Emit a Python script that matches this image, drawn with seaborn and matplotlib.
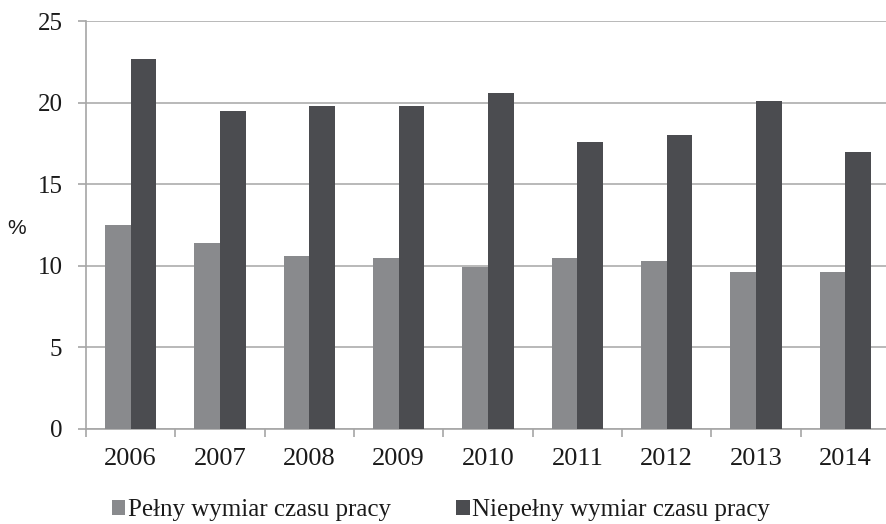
import matplotlib
matplotlib.use("Agg")
import matplotlib.pyplot as plt
import seaborn as sns
import pandas as pd
from matplotlib.ticker import FixedLocator, NullFormatter

years = ["2006", "2007", "2008", "2009", "2010", "2011", "2012", "2013", "2014"]
full_time = [12.5, 11.4, 10.6, 10.5, 9.9, 10.5, 10.3, 9.6, 9.6]
part_time = [22.7, 19.5, 19.8, 19.8, 20.6, 17.6, 18.0, 20.1, 17.0]
series_names = ["Pełny wymiar czasu pracy", "Niepełny wymiar czasu pracy"]
y_ticks = [0, 5, 10, 15, 20, 25]

df = pd.DataFrame({
    "year": years * 2,
    "value": full_time + part_time,
    "series": [series_names[0]] * len(years) + [series_names[1]] * len(years),
})

sns.set_style("white")
plt.rcParams["font.family"] = ["Liberation Serif", "DejaVu Serif"]

fig = plt.figure(figsize=(8.87, 5.24), dpi=100)
W, H = 887, 524
ax = fig.add_axes([86 / W, (H - 428.7) / H, 804 / W, 407.3 / H])

light = "#898a8d"
dark = "#4b4c50"
sns.barplot(data=df, x="year", y="value", hue="series", order=years,
            hue_order=series_names, palette=[light, dark], width=0.575,
            linewidth=0, saturation=1, ax=ax, zorder=3)

ax.set_ylim(0, 25)
ax.set_xlim(-0.5, len(years) - 0.5)
ax.set_yticks(y_ticks)
ax.set_yticklabels([str(t) for t in y_ticks])
ax.yaxis.grid(True, color="#b3b3b3", linewidth=1.3, zorder=0)
ax.set_axisbelow(True)

# x ticks at category boundaries, labels at centers
ax.xaxis.set_major_locator(FixedLocator([i - 0.5 for i in range(len(years) + 1)]))
ax.xaxis.set_major_formatter(NullFormatter())
ax.xaxis.set_minor_locator(FixedLocator(list(range(len(years)))))
ax.set_xticklabels(years, minor=True)
ax.tick_params(axis="x", which="major", direction="out", length=6, width=1.2,
               color="#a6a6a6", bottom=True)
ax.tick_params(axis="x", which="minor", length=0, pad=14, labelsize=19,
               labelcolor="#1a1a1a")
ax.tick_params(axis="y", direction="out", length=6, width=1.2, color="#a6a6a6",
               left=True, pad=11, labelsize=18, labelcolor="#1a1a1a")

for s in ["top", "right"]:
    ax.spines[s].set_visible(False)
for s in ["left", "bottom"]:
    ax.spines[s].set_color("#a6a6a6")
    ax.spines[s].set_linewidth(1.2)

ax.set_xlabel("")
ax.set_ylabel("")
fig.text(17 / W, 1 - 228 / H, "%", ha="center", va="center", fontsize=15,
         family=["Liberation Sans", "DejaVu Sans"], color="#1a1a1a")

handles, labels = ax.get_legend_handles_labels()
if ax.legend_ is not None:
    ax.legend_.remove()
fig.legend(handles, labels, loc="center", bbox_to_anchor=(0.497, 0.026),
           ncol=2, frameon=False, fontsize=18, handlelength=0.55,
           handleheight=0.55, handletextpad=0.1, columnspacing=2.6,
           labelcolor="#1a1a1a")

fig.savefig("out.png", dpi=100)
